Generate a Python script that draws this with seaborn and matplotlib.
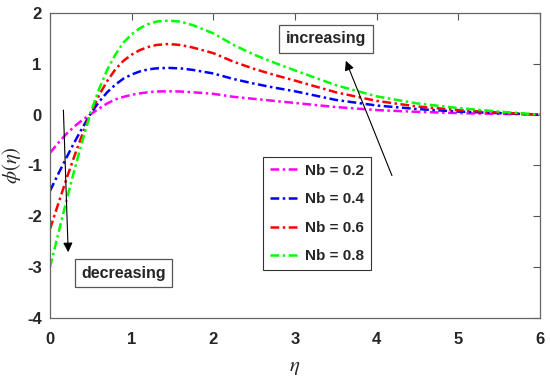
import numpy as np
import pandas as pd
import matplotlib
matplotlib.use("Agg")
import matplotlib.pyplot as plt
import seaborn as sns

# values
eta = [0.0, 0.1, 0.2, 0.3, 0.4, 0.5, 0.6, 0.7, 0.8, 0.9, 1.0, 1.1, 1.2, 1.3, 1.45, 1.6, 1.75,
       2.0, 2.25, 2.5, 2.75, 3.0, 3.5, 4.0, 4.5, 5.0, 5.5, 6.0]
phi_nb02 = [-0.75, -0.56, -0.38, -0.23, -0.10, 0.01, 0.12, 0.22, 0.30, 0.35, 0.39, 0.42, 0.44, 0.455,
            0.46, 0.455, 0.44, 0.41, 0.35, 0.31, 0.27, 0.23, 0.15, 0.09, 0.055, 0.03, 0.015, 0.0]
phi_nb04 = [-1.50, -1.17, -0.85, -0.54, -0.25, 0.03, 0.25, 0.44, 0.59, 0.71, 0.79, 0.85, 0.89, 0.91,
            0.92, 0.91, 0.88, 0.81, 0.70, 0.61, 0.53, 0.46, 0.29, 0.18, 0.11, 0.06, 0.03, 0.0]
phi_nb06 = [-2.25, -1.76, -1.27, -0.81, -0.37, 0.04, 0.38, 0.66, 0.89, 1.06, 1.18, 1.27, 1.33, 1.37,
            1.39, 1.37, 1.32, 1.21, 1.04, 0.90, 0.78, 0.67, 0.44, 0.27, 0.16, 0.09, 0.04, 0.0]
phi_nb08 = [-3.00, -2.35, -1.70, -1.08, -0.50, 0.05, 0.50, 0.88, 1.18, 1.42, 1.58, 1.70, 1.78, 1.83,
            1.85, 1.83, 1.76, 1.60, 1.37, 1.18, 1.02, 0.87, 0.58, 0.36, 0.22, 0.13, 0.06, 0.0]
labels = ["Nb = 0.2", "Nb = 0.4", "Nb = 0.6", "Nb = 0.8"]
colors = ["#ff00ff", "#0000ff", "#ff0000", "#00ff00"]

sns.set_style("white")
plt.rcParams["font.family"] = ["Liberation Sans", "DejaVu Sans"]
plt.rcParams["mathtext.fontset"] = "stix"
plt.rcParams["axes.unicode_minus"] = False

fig = plt.figure(figsize=(5.5, 3.81), dpi=100)
ax = fig.add_axes([0.0909, 0.1654, 0.8909, 0.8005])

series = [phi_nb02, phi_nb04, phi_nb06, phi_nb08]
for vals, lab, col in zip(series, labels, colors):
    df = pd.DataFrame({"eta": eta, "phi": vals})
    sns.lineplot(data=df, x="eta", y="phi", ax=ax, color=col, label=lab,
                 lw=1.8, linestyle=(0, (3.5, 1.4, 1.0, 1.4)))

ax.set_xlim(0, 6)
ax.set_ylim(-4, 2)
ax.set_xticks(range(0, 7))
ax.set_yticks(range(-4, 3))
ax.tick_params(direction="in", length=5, width=0.8, color="#555555",
               top=True, right=True, labelsize=12)
ax.tick_params(axis="x", pad=10)
ax.tick_params(axis="y", pad=6)
for t in ax.get_xticklabels() + ax.get_yticklabels():
    t.set_fontweight("bold")
for s in ax.spines.values():
    s.set_color("#666666")
    s.set_linewidth(0.9)

ax.set_xlabel(r"$\eta$", fontsize=15, labelpad=8)
ax.set_ylabel(r"$\phi(\eta)$", fontsize=15)
ax.yaxis.set_label_coords(-0.055, 0.5)

leg = ax.legend(loc="upper left", bbox_to_anchor=(0.435, 0.528), borderaxespad=0,
                fancybox=False, framealpha=1, edgecolor="#333333",
                prop={"weight": "bold", "size": 11}, handlelength=1.8,
                labelspacing=0.95, borderpad=0.45, handletextpad=0.5)
leg.get_frame().set_linewidth(0.8)

box = dict(boxstyle="square,pad=0.4", fc="white", ec="#555555", lw=0.9)
ax.text(3.38, 1.49, "increasing", ha="center", va="center", fontsize=11.5,
        fontweight="bold", bbox=box)
ax.text(0.90, -3.12, "decreasing", ha="center", va="center", fontsize=11.5,
        fontweight="bold", bbox=box)
ax.annotate("", xy=(3.61, 1.11), xytext=(4.20, -1.25),
            arrowprops=dict(arrowstyle="-|>", color="black", lw=0.8, mutation_scale=14))
ax.annotate("", xy=(0.224, -2.76), xytext=(0.163, 0.145),
            arrowprops=dict(arrowstyle="-|>", color="black", lw=0.8, mutation_scale=14))

fig.savefig("out.png", dpi=100)
